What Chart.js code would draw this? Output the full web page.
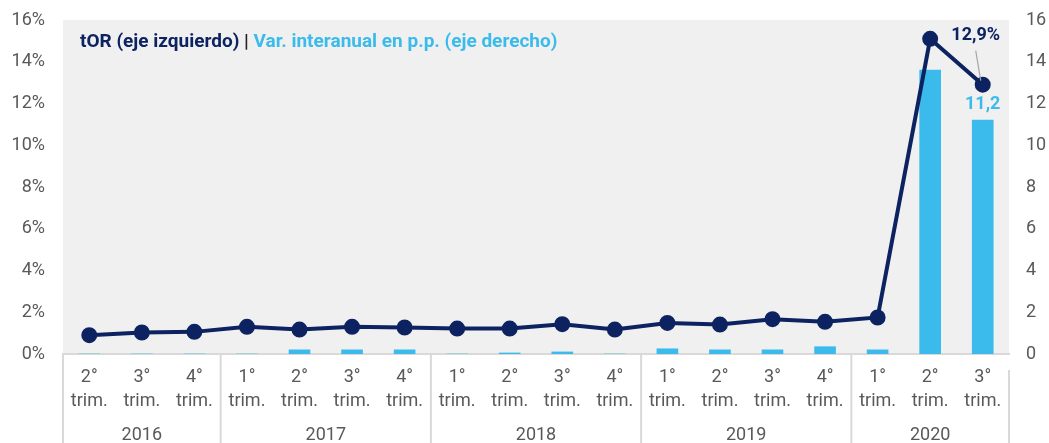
<!DOCTYPE html>
<html lang="es">
<head>
    <meta charset="UTF-8">
    <title>tOR trimestral</title>
    <script src="https://cdn.jsdelivr.net/npm/chart.js"></script>
    <style>
        body {
            margin: 0;
            background: #fff;
        }
        #wrap {
            width: 1049px;
            height: 443px;
        }
    </style>
</head>
<body>
<div id="wrap"><canvas id="chart"></canvas></div>

<script>
// quarter labels per category and the year each one belongs to
const quarters = ['2°','3°','4°','1°','2°','3°','4°','1°','2°','3°','4°','1°','2°','3°','4°','1°','2°','3°'];
const years = ['2016','2016','2016','2017','2017','2017','2017','2018','2018','2018','2018','2019','2019','2019','2019','2020','2020','2020'];

// tOR in %, left axis
const torValues = [0.9, 1.03, 1.06, 1.3, 1.17, 1.3, 1.27, 1.22, 1.22, 1.43, 1.17, 1.49, 1.41, 1.67, 1.54, 1.75, 15.1, 12.9];
// year-on-year change in p.p., right axis
const varValues = [0, 0, 0, 0, 0.2, 0.2, 0.2, -0.05, 0.05, 0.1, -0.1, 0.25, 0.2, 0.2, 0.35, 0.2, 13.6, 11.2];

const leftTicks = [0, 2, 4, 6, 8, 10, 12, 14, 16];

const navy = '#0c2261';
const sky = '#3bbbeb';
const grey = '#595959';

const labels = quarters.map(q => [q, 'trim.']);

const decorPlugin = {
    id: 'decor',
    beforeDraw(chart) {
        const { ctx, chartArea } = chart;
        ctx.save();
        ctx.fillStyle = '#f0f0f0';
        ctx.fillRect(chartArea.left, chartArea.top, chartArea.right - chartArea.left, chartArea.bottom - chartArea.top);
        ctx.restore();
    },
    afterDraw(chart) {
        const { ctx, chartArea, scales } = chart;
        const x = scales.x;
        const half = (x.getPixelForValue(1) - x.getPixelForValue(0)) / 2;
        ctx.save();

        // year groups: separators and labels
        const groups = [];
        years.forEach((y, i) => {
            const last = groups[groups.length - 1];
            if (last && last.year === y) last.end = i;
            else groups.push({ year: y, start: i, end: i });
        });
        ctx.strokeStyle = '#d9d9d9';
        ctx.lineWidth = 2;
        ctx.font = '18px Roboto';
        ctx.fillStyle = grey;
        ctx.textAlign = 'center';
        ctx.textBaseline = 'middle';
        groups.forEach((g, gi) => {
            const left = x.getPixelForValue(g.start) - half;
            const right = x.getPixelForValue(g.end) + half;
            ctx.beginPath();
            ctx.moveTo(left, chartArea.bottom);
            ctx.lineTo(left, 443);
            ctx.stroke();
            if (gi === groups.length - 1) {
                ctx.beginPath();
                ctx.moveTo(right, chartArea.bottom + 16);
                ctx.lineTo(right, 443);
                ctx.stroke();
            }
            ctx.fillText(g.year, (left + right) / 2, 435);
        });

        // header text inside the plot
        ctx.textAlign = 'left';
        ctx.textBaseline = 'alphabetic';
        ctx.font = 'bold 19px Roboto';
        let tx = chartArea.left + 17;
        const ty = 47;
        const parts = [
            ['tOR (eje izquierdo) ', navy],
            ['| ', '#222'],
            ['Var. interanual en p.p. (eje derecho)', sky]
        ];
        parts.forEach(([t, c]) => {
            ctx.fillStyle = c;
            ctx.fillText(t, tx, ty);
            tx += ctx.measureText(t).width;
        });

        // value labels for the last quarter
        const last = torValues.length - 1;
        const px = x.getPixelForValue(last);
        const py = scales.y.getPixelForValue(torValues[last]);
        ctx.strokeStyle = '#a6a6a6';
        ctx.lineWidth = 1.2;
        ctx.beginPath();
        ctx.moveTo(px - 7, py - 34);
        ctx.lineTo(px - 2, py - 4);
        ctx.stroke();
        ctx.fillStyle = navy;
        ctx.textAlign = 'center';
        ctx.textBaseline = 'middle';
        ctx.font = 'bold 18px Roboto';
        ctx.fillText('12,9%', px - 7, py - 49);

        const by = scales.y1.getPixelForValue(varValues[last]);
        ctx.fillStyle = sky;
        ctx.fillText('11,2', px, by - 16);
        ctx.restore();
    }
};

function noPad(scale) {
    scale.paddingTop = 0;
    scale.paddingBottom = 0;
}

new Chart(document.getElementById('chart'), {
    data: {
        labels: labels,
        datasets: [
            {
                type: 'line',
                label: 'tOR',
                data: torValues,
                yAxisID: 'y',
                borderColor: navy,
                backgroundColor: navy,
                borderWidth: 4,
                pointRadius: 6,
                pointHoverRadius: 6,
                tension: 0,
                order: 1
            },
            {
                type: 'bar',
                label: 'Var. interanual',
                data: varValues,
                yAxisID: 'y1',
                backgroundColor: sky,
                barThickness: 21,
                order: 2
            }
        ]
    },
    options: {
        responsive: true,
        maintainAspectRatio: false,
        animation: false,
        layout: { padding: { top: 20, left: 0, right: 0, bottom: 0 } },
        plugins: {
            legend: { display: false },
            tooltip: { enabled: false }
        },
        scales: {
            x: {
                grid: { display: false, drawTicks: false },
                border: { color: '#d9d9d9', width: 2 },
                ticks: {
                    color: grey,
                    font: { family: 'Roboto', size: 18, lineHeight: 1.3 },
                    padding: 12,
                    maxRotation: 0,
                    autoSkip: false
                },
                afterFit(scale) { scale.height = 89; }
            },
            y: {
                position: 'left',
                min: 0,
                max: 16,
                afterBuildTicks(scale) { scale.ticks = leftTicks.map(v => ({ value: v })); },
                grid: { display: false, drawTicks: false },
                border: { display: false },
                ticks: {
                    color: grey,
                    font: { family: 'Roboto', size: 18 },
                    padding: 18,
                    callback: v => v + '%'
                },
                afterFit(scale) { scale.width = 63; noPad(scale); }
            },
            y1: {
                position: 'right',
                min: 0,
                max: 16,
                afterBuildTicks(scale) { scale.ticks = leftTicks.map(v => ({ value: v })); },
                grid: { display: false, drawTicks: false },
                border: { display: false },
                ticks: {
                    color: grey,
                    font: { family: 'Roboto', size: 18 },
                    padding: 17
                },
                afterFit(scale) { scale.width = 40; noPad(scale); }
            }
        }
    },
    plugins: [decorPlugin]
});
</script>
</body>
</html>
